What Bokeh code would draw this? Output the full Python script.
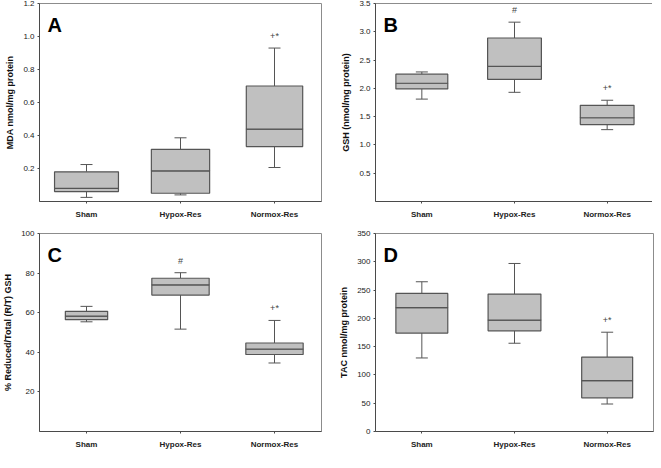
from bokeh.plotting import figure
from bokeh.layouts import gridplot
from bokeh.models import FixedTicker, Label, ColumnDataSource
from bokeh.embed import file_html
from bokeh.resources import INLINE

categories = ["Sham", "Hypox-Res", "Normox-Res"]

# Panel A: MDA nmol/mg protein
a_low = [0.025, 0.040, 0.206]
a_q1 = [0.060, 0.050, 0.333]
a_med = [0.080, 0.186, 0.439]
a_q3 = [0.180, 0.316, 0.700]
a_high = [0.224, 0.386, 0.930]
a_marks = ["", "", "+*"]
a_ticks = [0.2, 0.4, 0.6, 0.8, 1.0, 1.2]

# Panel B: GSH (nmol/mg protein)
b_low = [1.81, 1.93, 1.27]
b_q1 = [1.99, 2.16, 1.36]
b_med = [2.09, 2.39, 1.48]
b_q3 = [2.25, 2.89, 1.70]
b_high = [2.29, 3.17, 1.79]
b_marks = ["", "#", "+*"]
b_ticks = [0.5, 1.0, 1.5, 2.0, 2.5, 3.0, 3.5]

# Panel C: % Reduced/Total (R/T) GSH
c_low = [55.4, 51.7, 34.6]
c_q1 = [56.5, 68.9, 38.9]
c_med = [58.3, 74.1, 41.6]
c_q3 = [60.7, 77.4, 44.7]
c_high = [63.2, 80.2, 56.1]
c_marks = ["", "#", "+*"]
c_ticks = [20, 40, 60, 80, 100]

# Panel D: TAC nmol/mg protein
d_low = [130, 156, 48.6]
d_q1 = [174, 178, 59.5]
d_med = [219, 197, 90]
d_q3 = [244, 243, 131.5]
d_high = [264.7, 297, 175.5]
d_marks = ["", "", "+*"]
d_ticks = [0, 50, 100, 150, 200, 250, 300, 350]

FONT = "Liberation Sans"
BOX_FILL = "#c0c0c0"
BOX_LINE = "#555555"
FRAME = "#8c8c8c"
AXIS = "#4a4a4a"


def panel(letter, ylabel, yend, ticks, low, q1, med, q3, high, marks, box_w,
          fmt, left_border, right_border, top_border, bottom_border, frame_w):
    p = figure(x_range=categories, y_range=(0, yend),
               frame_width=frame_w, frame_height=198,
               min_border_left=left_border, min_border_right=right_border,
               min_border_top=top_border, min_border_bottom=bottom_border,
               output_backend="svg", toolbar_location=None, tools="")
    p.outline_line_color = FRAME
    p.outline_line_width = 1
    p.background_fill_color = "white"
    p.border_fill_color = "white"
    p.xgrid.visible = False
    p.ygrid.visible = False

    src = ColumnDataSource(dict(x=categories, low=low, q1=q1, med=med,
                                q3=q3, high=high, marks=marks, w=box_w))
    # whiskers
    p.segment(x0="x", y0="q3", x1="x", y1="high", source=src,
              line_color=BOX_LINE, line_width=1)
    p.segment(x0="x", y0="q1", x1="x", y1="low", source=src,
              line_color=BOX_LINE, line_width=1)
    p.scatter(x="x", y="high", source=src, marker="dash", size=12,
              line_color=BOX_LINE, line_width=1)
    p.scatter(x="x", y="low", source=src, marker="dash", size=12,
              line_color=BOX_LINE, line_width=1)
    # boxes
    p.vbar(x="x", bottom="q1", top="med", width="w", source=src,
           fill_color=BOX_FILL, line_color=BOX_LINE, line_width=1.2)
    p.vbar(x="x", bottom="med", top="q3", width="w", source=src,
           fill_color=BOX_FILL, line_color=BOX_LINE, line_width=1.2)
    # significance marks
    p.text(x="x", y="high", text="marks", source=src,
           text_font={"value": FONT}, text_font_size="9px",
           text_align="center", text_baseline="bottom", y_offset=-7,
           text_color="#444444")

    lab = Label(x=0, y=yend, text=letter, x_offset=8, y_offset=-10,
                text_baseline="top", text_align="left",
                text_font=FONT, text_font_style="bold",
                text_font_size="20px", text_color="black")
    p.add_layout(lab)

    p.yaxis.ticker = FixedTicker(ticks=ticks)
    p.yaxis.major_label_overrides = {t: fmt.format(t) for t in ticks}
    p.yaxis.axis_label = ylabel
    p.yaxis.axis_label_text_font = FONT
    p.yaxis.axis_label_text_font_style = "bold"
    p.yaxis.axis_label_text_font_size = "9px"
    p.yaxis.axis_label_text_color = "#111111"
    p.yaxis.axis_label_standoff = 5
    p.yaxis.major_label_text_font = FONT
    p.yaxis.major_label_text_font_size = "8px"
    p.yaxis.major_label_text_color = "#222222"
    p.yaxis.major_label_standoff = 3

    p.xaxis.major_label_text_font = FONT
    p.xaxis.major_label_text_font_style = "bold"
    p.xaxis.major_label_text_font_size = "8px"
    p.xaxis.major_label_text_color = "#222222"
    p.xaxis.major_label_standoff = 6

    for ax in (p.xaxis, p.yaxis):
        ax.axis_line_color = AXIS
        ax.major_tick_line_color = AXIS
        ax.major_tick_out = 2
        ax.major_tick_in = 0
        ax.minor_tick_line_color = None
    return p


pa = panel("A", "MDA nmol/mg protein", 1.2, a_ticks, a_low, a_q1, a_med,
           a_q3, a_high, a_marks, [0.68, 0.62, 0.60], "{:.1f}",
           33, 15, 3, 25, 282)
pb = panel("B", "GSH (nmol/mg protein)", 3.5, b_ticks, b_low, b_q1, b_med,
           b_q3, b_high, b_marks, [0.56, 0.58, 0.58], "{:.1f}",
           36, 1, 3, 25, 278)
pc = panel("C", "% Reduced/Total (R/T) GSH", 100, c_ticks, c_low, c_q1,
           c_med, c_q3, c_high, c_marks, [0.45, 0.61, 0.61], "{:d}",
           33, 15, 7, 20, 282)
pd = panel("D", "TAC nmol/mg protein", 350, d_ticks, d_low, d_q1, d_med,
           d_q3, d_high, d_marks, [0.56, 0.57, 0.55], "{:d}",
           36, 1, 7, 20, 278)

grid = gridplot([[pa, pb], [pc, pd]], toolbar_location=None)

open("out.html", "w").write(file_html(grid, INLINE))
